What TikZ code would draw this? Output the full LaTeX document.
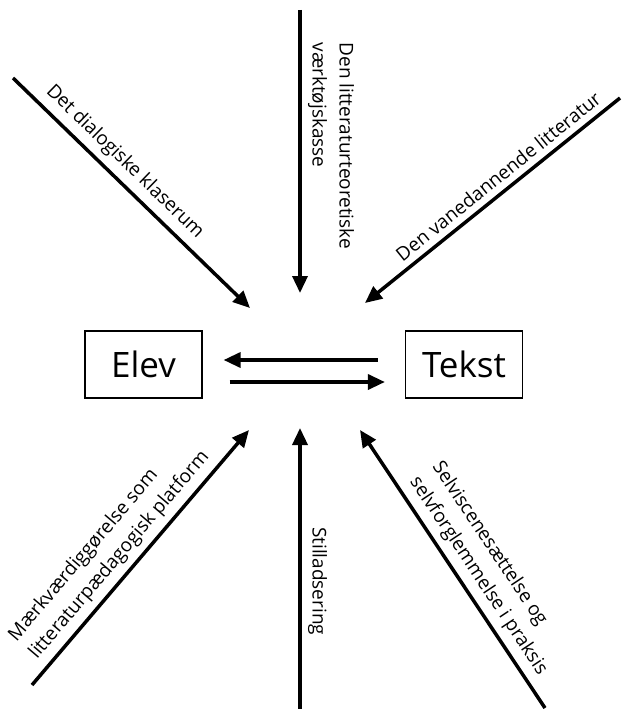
\documentclass[tikz,border=0pt]{standalone}
\usepackage{fontspec}
\setmainfont{Open Sans}
\usetikzlibrary{arrows.meta}

\begin{document}
\begin{tikzpicture}[x=1pt,y=-1pt,->,>={Triangle[length=17pt,width=15pt]},
        line width=3.5pt,
        box/.style={draw,line width=1.2pt,minimum width=117pt,minimum height=67pt,
          font=\fontsize{35}{40}\selectfont},
        lbl/.style={font=\fontsize{19}{27}\selectfont,align=left,sloped,above=3pt}]

  \useasboundingbox (0,0) rectangle (624,709);

  \node[box] (elev) at (143.5,364.5) {Elev};
  \node[box] (tekst) at (464,364.5) {Tekst};

  \coordinate (dialog) at (13,78);
  \coordinate (dialogTip) at (250,308);
  \coordinate (kasse) at (300,10);
  \coordinate (kasseTip) at (300,293);
  \coordinate (vane) at (620,98);
  \coordinate (vaneTip) at (365,303);
  \coordinate (platform) at (32,685);
  \coordinate (platformTip) at (249,430);
  \coordinate (stillads) at (300,709);
  \coordinate (stilladsTip) at (300,428);
  \coordinate (praksis) at (545,708);
  \coordinate (praksisTip) at (360,430);

  \path (dialog) edge node[lbl,pos=.42] {Det dialogiske klaserum} (dialogTip)
        (kasse) edge node[lbl,pos=.48] {Den litteraturteoretiske\\værktøjskasse} (kasseTip)
        (vane) edge node[lbl,pos=.44] {Den vanedannende litteratur} (vaneTip)
        (platform) edge node[lbl,pos=.465] {Mærkværdiggørelse som\\litteraturpædagogisk platform} (platformTip)
        (stilladsTip) edge[<-] node[lbl,pos=.545] {Stilladsering} (stillads)
        (praksis) edge node[lbl,pos=.44] {Selviscenesættelse og\\selvforglemmelse i praksis} (praksisTip);

  \draw[shorten <=27pt,shorten >=21pt] ([yshift=4.5pt]tekst.west) -- ([yshift=4.5pt]elev.east);
  \draw[shorten <=27pt,shorten >=20pt] ([yshift=-17.5pt]elev.east) -- ([yshift=-17.5pt]tekst.west);

\end{tikzpicture}
\end{document}
